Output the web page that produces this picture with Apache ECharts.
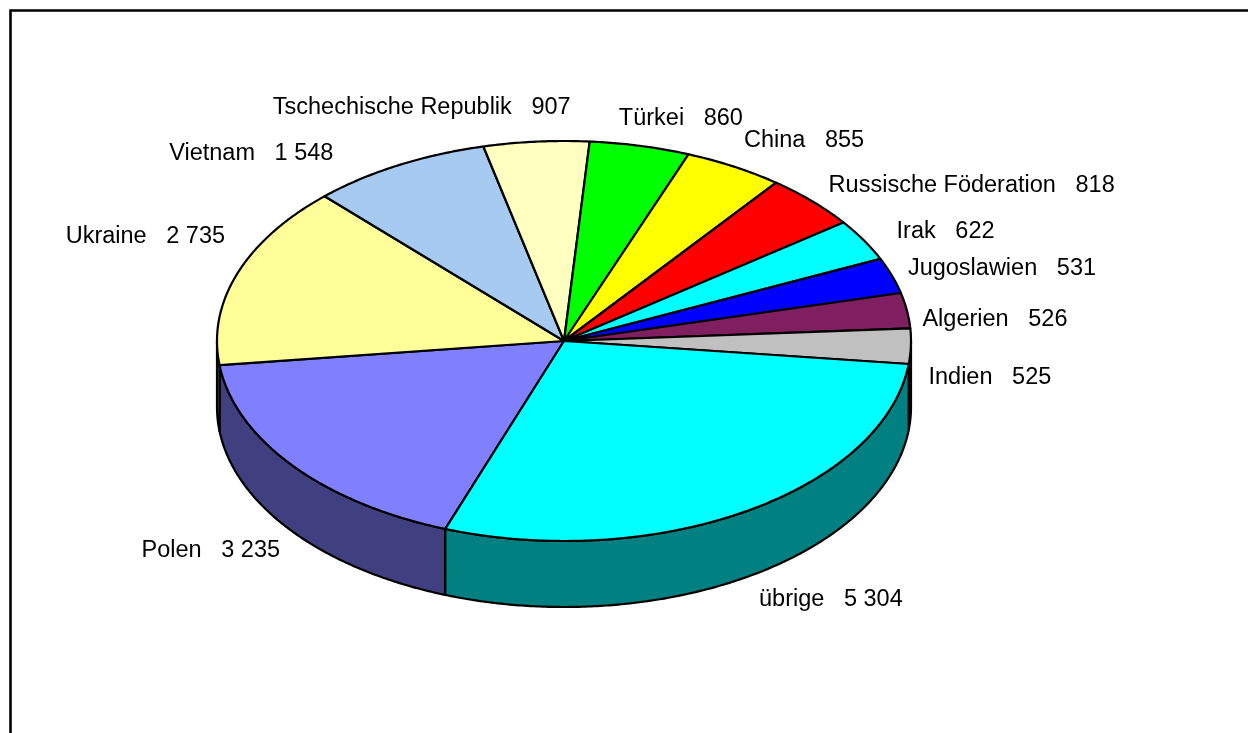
<!DOCTYPE html>
<html>
<head>
<meta charset="utf-8">
<script src="https://cdn.jsdelivr.net/npm/echarts@6/dist/echarts.min.js"></script>
<style>
  html, body { margin: 0; padding: 0; background: #ffffff; }
  #chart { width: 1248px; height: 733px; }
</style>
</head>
<body>
<div id="chart"></div>
<script>
// Herkunftsländer und Anzahl
const countries = ['Polen', 'Ukraine', 'Vietnam', 'Tschechische Republik', 'Türkei', 'China',
  'Russische Föderation', 'Irak', 'Jugoslawien', 'Algerien', 'Indien', 'übrige'];
const counts = [3235, 2735, 1548, 907, 860, 855, 818, 622, 531, 526, 525, 5304];
const sliceColors = ['#8080FF', '#FFFF99', '#A6CAF0', '#FFFFC0', '#00FF00', '#FFFF00',
  '#FF0000', '#00FFFF', '#0000FF', '#7F1F5F', '#C0C0C0', '#00FFFF'];

// Geometry of the tilted pie (pixels / degrees clockwise from 12 o'clock)
const PIE = { cx: 564, cy: 341, rx: 347, ry: 200, depth: 66, startAngle: 200 };
// Label centre offset from the rim point at each slice's mid angle
const labelOffsets = [
  [-81.5, 85.5], [-92, -36.6], [-147, -12], [-114.5, -34.6],
  [41, -27.8], [70, -25.8], [159.5, -15.3], [82, -9],
  [110, -7.6], [88, 8.6], [79, 31], [84.5, 88]
];
const FONT = '23.5px "Liberation Sans", Arial, sans-serif';

const total = counts.reduce((a, b) => a + b, 0);
const cumulative = [];
counts.reduce((acc, v, i) => { cumulative[i] = acc; return acc + v; }, 0);

function fmt(n) {
  return String(n).replace(/\B(?=(\d{3})+(?!\d))/g, ' ');
}
function rim(deg, dy) {
  const r = deg * Math.PI / 180;
  return [PIE.cx + PIE.rx * Math.sin(r), PIE.cy - PIE.ry * Math.cos(r) + (dy || 0)];
}
function arc(a, b, dy) {
  const pts = [];
  const n = Math.max(2, Math.ceil(Math.abs(b - a) / 0.5));
  for (let k = 0; k <= n; k++) pts.push(rim(a + (b - a) * k / n, dy));
  return pts;
}
function darken(hex) {
  const c = parseInt(hex.slice(1), 16);
  const r = (c >> 16) & 255, g = (c >> 8) & 255, b = c & 255;
  return 'rgb(' + Math.round(r / 2) + ',' + Math.round(g / 2) + ',' + Math.round(b / 2) + ')';
}

function renderItem(params, api) {
  const i = params.dataIndex;
  const v = api.value(0);
  const start = PIE.startAngle + 360 * cumulative[i] / total;
  const end = start + 360 * v / total;
  const children = [];

  // front wall: only the part of the rim that faces the viewer (90°..270°)
  [[90, 270], [450, 630]].forEach(([lo, hi]) => {
    const a = Math.max(start, lo), b = Math.min(end, hi);
    if (b > a) {
      const pts = arc(a, b, 0).concat(arc(b, a, PIE.depth));
      children.push({
        type: 'polygon', z2: 1,
        shape: { points: pts },
        style: { fill: darken(sliceColors[i]), stroke: '#000', lineWidth: 2.2, lineJoin: 'round' }
      });
    }
  });

  // top face
  children.push({
    type: 'polygon', z2: 10,
    shape: { points: [[PIE.cx, PIE.cy]].concat(arc(start, end, 0)) },
    style: { fill: sliceColors[i], stroke: '#000', lineWidth: 2.2, lineJoin: 'round' }
  });

  // label
  const mid = (start + end) / 2;
  const p = rim(mid, 0);
  const off = labelOffsets[i];
  children.push({
    type: 'text', z2: 20,
    style: {
      text: countries[i] + '   ' + fmt(v),
      x: p[0] + off[0], y: p[1] + off[1],
      align: 'center', verticalAlign: 'middle',
      font: FONT, fill: '#000'
    }
  });

  return { type: 'group', children: children };
}

const chart = echarts.init(document.getElementById('chart'), null, { renderer: 'canvas' });
chart.setOption({
  animation: false,
  backgroundColor: '#ffffff',
  graphic: [{
    type: 'rect', z: 100,
    shape: { x: 10.5, y: 10.5, width: 1400, height: 900 },
    style: { fill: 'none', stroke: '#000', lineWidth: 2.6 }
  }],
  series: [{
    type: 'custom',
    coordinateSystem: 'none',
    renderItem: renderItem,
    data: counts.map((v, i) => ({ name: countries[i], value: [v] }))
  }]
});
</script>
</body>
</html>
